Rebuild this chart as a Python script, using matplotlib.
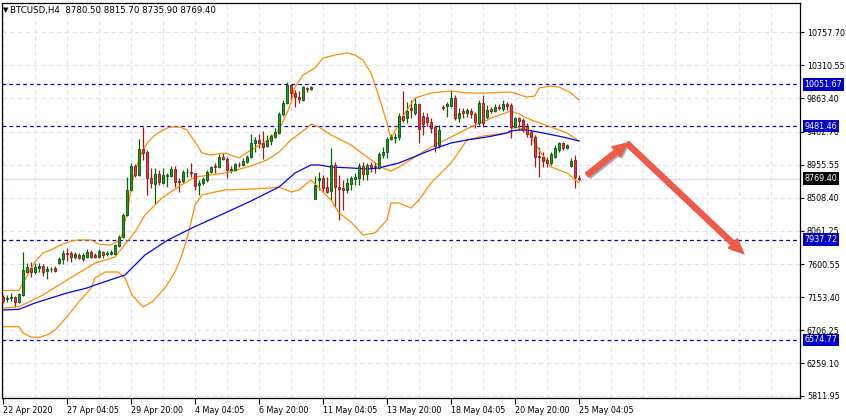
import matplotlib
matplotlib.use("Agg")
import matplotlib.pyplot as plt
import matplotlib.patheffects as pe
from matplotlib.patches import FancyArrowPatch
import numpy as np

# header text of the chart window
symbol_text = "BTCUSD,H4  8780.50 8815.70 8735.90 8769.40"

# H4 candles, 22 Apr 2020 .. 25 May 2020
opens = [7154, 7127, 7145, 7158, 7090, 7186, 7500, 7557, 7494, 7557,
         7580, 7512, 7535, 7557, 7617, 7671, 7761, 7761, 7698, 7730,
         7675, 7706, 7770, 7730, 7706, 7774, 7739, 7743, 7739, 7856,
         7978, 8274, 8614, 8940, 8818, 9171, 9126, 8773, 8695, 8827,
         8713, 8804, 8804, 8899, 8736, 8736, 8852, 8854, 8840, 8682,
         8705, 8750, 8854, 8940, 8922, 9066, 9035, 8881, 8886, 8958,
         8954, 8998, 9066, 9249, 9294, 9257, 9212, 9284, 9338, 9385,
         9647, 9801, 10042, 9929, 9874, 9838, 10001, 9991, 8491, 8750,
         8781, 8658, 8604, 8954, 8658, 8645, 8614, 8695, 8763, 8773,
         8940, 8827, 8954, 8944, 8917, 9090, 9126, 9303, 9317, 9330,
         9620, 9589, 9734, 9661, 9783, 9620, 9611, 9534, 9466, 9226,
         9746, 9756, 9760, 9861, 9588, 9688, 9657, 9688, 9643, 9521,
         9793, 9610, 9711, 9688, 9746, 9715, 9779, 9770, 9474, 9589,
         9566, 9484, 9406, 9338, 9080, 9066, 9022, 8977, 9066, 9158,
         9257, 9181, 8944, 9022, 8780.5]
highs = [7186, 7186, 7208, 7172, 7213, 7774, 7617, 7638, 7625, 7625,
         7607, 7580, 7571, 7580, 7706, 7797, 7829, 7788, 7770, 7757,
         7753, 7807, 7793, 7753, 7807, 7788, 7784, 7797, 7883, 8001,
         8297, 8790, 8977, 8967, 9307, 9474, 9158, 8909, 8909, 8886,
         8909, 8849, 8940, 8940, 8773, 8886, 8909, 8977, 8849, 8750,
         8790, 8886, 8940, 8977, 9103, 9121, 9066, 8940, 8985, 8998,
         9045, 9090, 9375, 9330, 9375, 9420, 9362, 9375, 9452, 9678,
         9838, 10078, 10055, 9974, 9964, 10028, 10015, 10028, 8804, 8862,
         8818, 8794, 9189, 8998, 8818, 8750, 8773, 8804, 8840, 8977,
         8998, 8977, 8990, 8990, 9134, 9194, 9338, 9375, 9393, 9657,
         9960, 9814, 9838, 9865, 9801, 9674, 9661, 9593, 9498, 9498,
         9770, 9814, 9974, 9906, 9725, 9725, 9733, 9725, 9678, 9838,
         9906, 9770, 9746, 9783, 9779, 9838, 9814, 9793, 9610, 9610,
         9589, 9521, 9430, 9362, 9202, 9134, 9066, 9134, 9226, 9270,
         9270, 9239, 9045, 9090, 8815.7]
lows = [7081, 7090, 7108, 7026, 7081, 7172, 7490, 7434, 7471, 7502,
        7444, 7403, 7502, 7498, 7607, 7607, 7648, 7638, 7675, 7675,
        7648, 7693, 7689, 7684, 7693, 7684, 7720, 7725, 7725, 7838,
        7961, 8260, 8600, 8790, 8804, 9022, 8546, 8637, 8423, 8682,
        8695, 8658, 8794, 8650, 8590, 8709, 8794, 8794, 8614, 8546,
        8682, 8726, 8840, 8840, 8909, 9022, 8773, 8840, 8872, 8931,
        8940, 8981, 9049, 9134, 9181, 9031, 9194, 9226, 9321, 9375,
        9620, 9783, 9828, 9746, 9793, 9828, 9942, 9974, 8487, 8614,
        8590, 8569, 8478, 8386, 8206, 8342, 8569, 8614, 8682, 8682,
        8750, 8750, 8862, 8840, 8895, 9045, 9045, 9294, 9249, 9294,
        9542, 9529, 9593, 9634, 9249, 9362, 9484, 9389, 9134, 9181,
        9702, 9610, 9742, 9566, 9542, 9589, 9610, 9589, 9461, 9498,
        9474, 9566, 9657, 9674, 9702, 9688, 9702, 9317, 9452, 9430,
        9406, 9338, 9226, 8931, 8794, 8931, 8931, 8954, 9045, 9134,
        9158, 9171, 8931, 8637, 8735.9]
closes = [7108, 7149, 7150, 7090, 7199, 7526, 7565, 7494, 7570, 7580,
          7494, 7539, 7541, 7516, 7671, 7761, 7739, 7698, 7739, 7693,
          7730, 7774, 7706, 7706, 7788, 7730, 7761, 7770, 7866, 7978,
          8274, 8614, 8940, 8818, 9167, 9121, 8773, 8705, 8827, 8718,
          8818, 8818, 8895, 8726, 8722, 8854, 8856, 8840, 8668, 8713,
          8763, 8854, 8922, 8922, 9066, 9031, 8886, 8895, 8967, 8949,
          9012, 9066, 9249, 9294, 9249, 9202, 9294, 9348, 9406, 9647,
          9801, 10042, 9929, 9874, 9847, 10010, 9983, 10014, 8682, 8781,
          8637, 8590, 8954, 8650, 8627, 8614, 8705, 8773, 8794, 8940,
          8827, 8954, 8931, 8931, 9099, 9134, 9307, 9338, 9338, 9620,
          9566, 9688, 9706, 9783, 9439, 9511, 9534, 9453, 9212, 9430,
          9725, 9779, 9861, 9588, 9665, 9657, 9702, 9643, 9534, 9793,
          9521, 9702, 9688, 9746, 9725, 9779, 9760, 9474, 9589, 9552,
          9430, 9371, 9338, 9066, 9062, 9012, 8985, 9099, 9181, 9249,
          9189, 9226, 9008, 8794, 8769.4]

# Bollinger bands (20) and moving average, sampled along the bar index
upper_x = [0, 4, 5, 8, 10, 12, 14, 17, 19, 22, 24, 27, 29.25, 29.75, 31.25,
           32.25, 33.5, 34.75, 36.25, 38, 40, 41.75, 44.25, 46, 48, 49.75,
           51.75, 55.5, 59, 62, 66, 69, 71, 72, 73, 75, 78, 80, 83, 86, 88, 90,
           92, 94, 96, 97, 99, 101, 103, 107, 112, 116, 121, 127, 131, 133,
           134, 137, 139, 142, 144]
upper_y = [7247, 7247, 7349, 7638, 7757, 7798, 7856, 7920, 7934, 7934, 7875,
           7866, 7934, 8001, 8369, 8722, 8953, 9130, 9266, 9362, 9430, 9470,
           9470, 9430, 9266, 9117, 9090, 9117, 9049, 9158, 9280, 9430, 9661,
           9797, 10014, 10177, 10273, 10409, 10449, 10477, 10449, 10381,
           10205, 9878, 9525, 9307, 9525, 9702, 9865, 9933, 9960, 9933, 9933,
           9946, 9878, 9892, 10001, 10028, 10014, 9933, 9838]
middle_x = [0, 4, 6, 10, 16, 21, 23, 28, 29.75, 33, 35.5, 39.75, 43.75, 48,
            55.5, 62, 66, 69, 72, 76, 77, 79, 82, 87, 91, 95, 97, 99, 103, 107,
            112, 117, 122, 127, 129, 132, 137, 141, 144]
middle_y = [7005, 7027, 7077, 7186, 7390, 7553, 7621, 7702, 7825, 8042, 8274,
            8505, 8654, 8790, 8845, 8940, 9022, 9130, 9294, 9457, 9511, 9470,
            9362, 9226, 9062, 8913, 8872, 8926, 9062, 9198, 9334, 9470, 9593,
            9688, 9647, 9566, 9470, 9389, 9280]
lower_x = [0, 4, 5, 7, 9, 11, 13, 16, 19, 22, 23, 25.5, 28.75, 30.5, 32.25,
           35, 37.25, 40.5, 43, 44.75, 46.25, 48, 49.75, 53, 55.5, 62, 67, 69,
           72, 74, 77, 79, 82, 84, 87, 90, 93, 96, 97, 99, 102, 104, 107, 112,
           116, 120, 126, 128, 131, 134, 137, 141, 144]
lower_y = [6754, 6754, 6669, 6614, 6610, 6641, 6710, 6890, 7094, 7277, 7417,
           7498, 7498, 7417, 7186, 7022, 7090, 7281, 7498, 7730, 8001, 8409,
           8546, 8586, 8614, 8627, 8641, 8654, 8586, 8614, 8750, 8641, 8478,
           8301, 8178, 8001, 8029, 8206, 8437, 8437, 8369, 8478, 8709, 8981,
           9294, 9348, 9389, 9470, 9430, 9158, 8926, 8845, 8709]
ma_x = [0, 4, 8, 16, 21, 23, 30.5, 35.5, 41.25, 47.25, 55.5, 62, 69, 73, 77,
        79, 82, 87, 91, 94, 99, 107, 112, 116, 121, 126, 127, 129, 131, 135,
        140, 144]
ma_y = [6981, 6991, 7077, 7213, 7281, 7321, 7458, 7730, 7934, 8097, 8301,
        8464, 8654, 8845, 8954, 8954, 8926, 8913, 8899, 8913, 8981, 9158,
        9253, 9294, 9334, 9389, 9416, 9430, 9430, 9389, 9334, 9280]

# axis labels and horizontal levels
date_labels = ["22 Apr 2020", "27 Apr 04:05", "29 Apr 20:00", "4 May 04:05",
               "6 May 20:00", "11 May 04:05", "13 May 20:00", "18 May 04:05",
               "20 May 20:00", "25 May 04:05"]
price_ticks = [10757.70, 10310.55, 9863.40, 9402.70, 8955.55, 8508.40,
               8061.25, 7600.55, 7153.40, 6706.25, 6259.10, 5811.95]
levels = [10051.67, 9481.46, 7937.72, 6574.77]
last_price = 8769.40

# forecast arrows (bar index, price)
arrow_x = [146, 156, 185]
arrow_y = [8818, 9249, 7757]

W, H = 846, 419
fig = plt.figure(figsize=(W / 100, H / 100), dpi=100)
ax = fig.add_axes([2 / W, 21 / H, 798 / W, 395 / H])
ax.set_xlim(-0.25, 199.25)
ax.set_ylim(5784.7, 11156.7)

grid_kw = dict(color="#e0e0f2", lw=0.8, ls=(0, (4, 3)), zorder=0)
for gx in range(0, 200, 8):
    ax.axvline(gx, **grid_kw)
for gy in price_ticks:
    ax.axhline(gy, **grid_kw)

ax.axhline(last_price, color="#dcdcf4", lw=1.0, zorder=0.5)
for lv in levels:
    ax.axhline(lv, color="#0000c0", lw=0.9, ls=(0, (3, 2.5)), zorder=1)

# candles
o = np.array(opens)
c = np.array(closes)
idx = np.arange(len(o))
up = c >= o
wick_col = np.where(up, "#006a00", "#a01818")
ax.vlines(idx, lows, highs, colors=wick_col, lw=0.9, zorder=2)
body_h = np.maximum(np.abs(c - o), 8)
ax.bar(idx, body_h, bottom=np.minimum(o, c), width=0.72,
       color=np.where(up, "#1aa01a", "#e03c3c"),
       edgecolor=np.where(up, "#0a4f0a", "#8c1616"), linewidth=0.6, zorder=3)

# indicators
ax.plot(upper_x, upper_y, color="#ff8c00", lw=0.9, zorder=2.5)
ax.plot(middle_x, middle_y, color="#ff8c00", lw=0.9, zorder=2.5)
ax.plot(lower_x, lower_y, color="#ff8c00", lw=0.9, zorder=2.5)
ax.plot(ma_x, ma_y, color="#0000ff", lw=0.9, zorder=2.5)

# forecast arrows with a soft shadow
for k in range(len(arrow_x) - 1):
    arr = FancyArrowPatch((arrow_x[k], arrow_y[k]), (arrow_x[k + 1], arrow_y[k + 1]),
                          arrowstyle="simple,head_length=1.0,head_width=0.9,tail_width=0.34",
                          mutation_scale=10, color="#f05a48", shrinkA=0, shrinkB=0,
                          zorder=4,
                          path_effects=[pe.withSimplePatchShadow(offset=(1.5, -1.5),
                                                                  shadow_rgbFace="#606060",
                                                                  alpha=0.55),
                                        pe.Normal()])
    ax.add_patch(arr)

# axes and ticks
for s in ax.spines.values():
    s.set_color("black")
    s.set_linewidth(0.9)
ax.yaxis.tick_right()
ax.set_yticks(price_ticks)
ax.set_yticklabels([f"{p:.2f}" for p in price_ticks])
ax.set_xticks(range(0, 16 * len(date_labels), 16))
ax.set_xticklabels(date_labels)
ax.tick_params(axis="y", direction="out", length=3, width=0.8, pad=2, labelsize=5.8)
ax.tick_params(axis="x", direction="out", length=4, width=0.8, pad=1.5, labelsize=5.8)
plt.setp(ax.get_xticklabels(), ha="left")

# price tags on the right scale
tag_kw = dict(transform=ax.get_yaxis_transform(), fontsize=5.8, va="center",
              ha="left", color="white", clip_on=False, zorder=6)
for lv in levels:
    ax.text(1.0055, lv, f"{lv:.2f}",
            bbox=dict(boxstyle="square,pad=0.22", fc="#0000c8", ec="none"), **tag_kw)
ax.text(1.0055, last_price, f"{last_price:.2f}",
        bbox=dict(boxstyle="square,pad=0.22", fc="black", ec="none"), **tag_kw)

fig.text(3 / W, 1 - 10.5 / H, "\u25bc", fontsize=5, va="center")
fig.text(10 / W, 1 - 10 / H, symbol_text, fontsize=6.2, va="center")

fig.savefig("out.png", dpi=100)
